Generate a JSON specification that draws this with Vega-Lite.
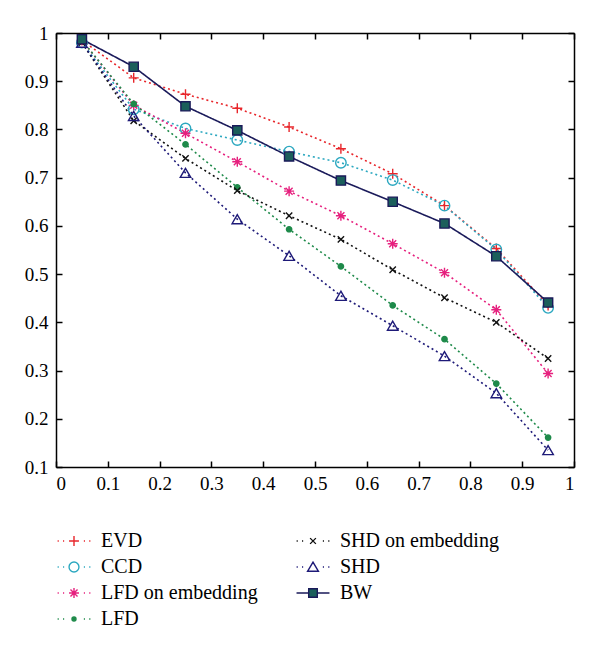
{
  "$schema": "https://vega.github.io/schema/vega-lite/v6.json",
  "autosize": "none",
  "width": 518,
  "height": 434,
  "padding": {"left": 56, "top": 33, "right": 26, "bottom": 180},
  "background": "white",
  "config": {
    "view": {"stroke": null},
    "font": "Liberation Serif, Times New Roman, DejaVu Serif, serif",
    "axis": {
      "grid": false, "title": null, "domainColor": "black", "domainWidth": 1.5,
      "tickColor": "black", "tickWidth": 1.5, "tickSize": -6,
      "labelFont": "Liberation Serif, Times New Roman, DejaVu Serif, serif", "labelFontSize": 19, "labelColor": "black"
    },
    "legend": {
      "orient": "none", "legendX": 8, "legendY": 498, "columns": 2, "columnPadding": 35, "rowPadding": 6,
      "title": null, "labelFont": "Liberation Serif, Times New Roman, DejaVu Serif, serif", "labelFontSize": 20, "labelColor": "black",
      "symbolSize": 256, "labelOffset": 17, "padding": 0, "symbolStrokeWidth": 1.4, "symbolOpacity": 1
    }
  },
  "data": {"values": [
    {"x": 0.05, "v": 0.985, "s": "EVD"}, {"x": 0.15, "v": 0.907, "s": "EVD"}, {"x": 0.25, "v": 0.873, "s": "EVD"}, {"x": 0.35, "v": 0.844, "s": "EVD"}, {"x": 0.45, "v": 0.805, "s": "EVD"}, {"x": 0.55, "v": 0.76, "s": "EVD"}, {"x": 0.65, "v": 0.708, "s": "EVD"}, {"x": 0.75, "v": 0.642, "s": "EVD"}, {"x": 0.85, "v": 0.553, "s": "EVD"}, {"x": 0.95, "v": 0.435, "s": "EVD"},
    {"x": 0.05, "v": 0.98, "s": "CCD"}, {"x": 0.15, "v": 0.842, "s": "CCD"}, {"x": 0.25, "v": 0.802, "s": "CCD"}, {"x": 0.35, "v": 0.778, "s": "CCD"}, {"x": 0.45, "v": 0.754, "s": "CCD"}, {"x": 0.55, "v": 0.731, "s": "CCD"}, {"x": 0.65, "v": 0.695, "s": "CCD"}, {"x": 0.75, "v": 0.642, "s": "CCD"}, {"x": 0.85, "v": 0.551, "s": "CCD"}, {"x": 0.95, "v": 0.43, "s": "CCD"},
    {"x": 0.05, "v": 0.985, "s": "LFD on embedding"}, {"x": 0.15, "v": 0.85, "s": "LFD on embedding"}, {"x": 0.25, "v": 0.792, "s": "LFD on embedding"}, {"x": 0.35, "v": 0.733, "s": "LFD on embedding"}, {"x": 0.45, "v": 0.672, "s": "LFD on embedding"}, {"x": 0.55, "v": 0.621, "s": "LFD on embedding"}, {"x": 0.65, "v": 0.563, "s": "LFD on embedding"}, {"x": 0.75, "v": 0.503, "s": "LFD on embedding"}, {"x": 0.85, "v": 0.426, "s": "LFD on embedding"}, {"x": 0.95, "v": 0.294, "s": "LFD on embedding"},
    {"x": 0.05, "v": 0.985, "s": "LFD"}, {"x": 0.15, "v": 0.853, "s": "LFD"}, {"x": 0.25, "v": 0.769, "s": "LFD"}, {"x": 0.35, "v": 0.68, "s": "LFD"}, {"x": 0.45, "v": 0.593, "s": "LFD"}, {"x": 0.55, "v": 0.516, "s": "LFD"}, {"x": 0.65, "v": 0.435, "s": "LFD"}, {"x": 0.75, "v": 0.365, "s": "LFD"}, {"x": 0.85, "v": 0.273, "s": "LFD"}, {"x": 0.95, "v": 0.161, "s": "LFD"},
    {"x": 0.05, "v": 0.98, "s": "SHD on embedding"}, {"x": 0.15, "v": 0.818, "s": "SHD on embedding"}, {"x": 0.25, "v": 0.74, "s": "SHD on embedding"}, {"x": 0.35, "v": 0.673, "s": "SHD on embedding"}, {"x": 0.45, "v": 0.621, "s": "SHD on embedding"}, {"x": 0.55, "v": 0.572, "s": "SHD on embedding"}, {"x": 0.65, "v": 0.509, "s": "SHD on embedding"}, {"x": 0.75, "v": 0.451, "s": "SHD on embedding"}, {"x": 0.85, "v": 0.4, "s": "SHD on embedding"}, {"x": 0.95, "v": 0.325, "s": "SHD on embedding"},
    {"x": 0.05, "v": 0.98, "s": "SHD"}, {"x": 0.15, "v": 0.828, "s": "SHD"}, {"x": 0.25, "v": 0.71, "s": "SHD"}, {"x": 0.35, "v": 0.614, "s": "SHD"}, {"x": 0.45, "v": 0.538, "s": "SHD"}, {"x": 0.55, "v": 0.455, "s": "SHD"}, {"x": 0.65, "v": 0.393, "s": "SHD"}, {"x": 0.75, "v": 0.33, "s": "SHD"}, {"x": 0.85, "v": 0.253, "s": "SHD"}, {"x": 0.95, "v": 0.135, "s": "SHD"},
    {"x": 0.05, "v": 0.987, "s": "BW"}, {"x": 0.15, "v": 0.93, "s": "BW"}, {"x": 0.25, "v": 0.848, "s": "BW"}, {"x": 0.35, "v": 0.798, "s": "BW"}, {"x": 0.45, "v": 0.744, "s": "BW"}, {"x": 0.55, "v": 0.694, "s": "BW"}, {"x": 0.65, "v": 0.65, "s": "BW"}, {"x": 0.75, "v": 0.605, "s": "BW"}, {"x": 0.85, "v": 0.537, "s": "BW"}, {"x": 0.95, "v": 0.441, "s": "BW"}
  ]},
  "resolve": {
    "scale": {"stroke": "independent", "shape": "independent", "fill": "independent", "size": "independent", "strokeDash": "independent"},
    "axis": {"x": "independent", "y": "independent"}
  },
  "layer": [
    {
      "mark": {"type": "line", "strokeWidth": 1.6},
      "encoding": {
        "x": {"field": "x", "type": "quantitative", "scale": {"domain": [0, 1], "nice": false, "zero": false},
              "axis": {"orient": "bottom", "values": [0, 0.1, 0.2, 0.3, 0.4, 0.5, 0.6, 0.7, 0.8, 0.9, 1], "format": "~g", "labelPadding": 13}},
        "y": {"field": "v", "type": "quantitative", "scale": {"domain": [0.1, 1], "nice": false, "zero": false},
              "axis": {"orient": "left", "values": [0.1, 0.2, 0.3, 0.4, 0.5, 0.6, 0.7, 0.8, 0.9, 1], "format": "~g", "labelPadding": 14}},
        "order": {"field": "x", "type": "quantitative"},
        "stroke": {"field": "s", "type": "nominal", "legend": null,
          "scale": {"domain": ["EVD", "CCD", "LFD on embedding", "LFD", "SHD on embedding", "SHD", "BW"],
                    "range": ["#e8262b", "#2ca8c0", "#e6207e", "#1e8a4a", "#111111", "#1e1a78", "#1a1a5a"]}},
        "strokeDash": {"field": "s", "type": "nominal", "legend": null,
          "scale": {"domain": ["EVD", "CCD", "LFD on embedding", "LFD", "SHD on embedding", "SHD", "BW"],
                    "range": [[2, 3], [2, 3], [2, 3], [2, 3], [2, 3], [2, 3], [1, 0]]}}
      }
    },
    {
      "mark": {"type": "point", "strokeWidth": 1.4, "opacity": 1},
      "encoding": {
        "x": {"field": "x", "type": "quantitative",
              "axis": {"orient": "top", "labels": false, "values": [0, 0.1, 0.2, 0.3, 0.4, 0.5, 0.6, 0.7, 0.8, 0.9, 1]}},
        "y": {"field": "v", "type": "quantitative",
              "axis": {"orient": "right", "labels": false, "values": [0.1, 0.2, 0.3, 0.4, 0.5, 0.6, 0.7, 0.8, 0.9, 1]}},
        "stroke": {"field": "s", "type": "nominal", "legend": null,
          "scale": {"domain": ["EVD", "CCD", "LFD on embedding", "LFD", "SHD on embedding", "SHD", "BW"],
                    "range": ["#e8262b", "#2ca8c0", "#e6207e", "#1e8a4a", "#111111", "#1e1a78", "#1a1a5a"]}},
        "shape": {"field": "s", "type": "nominal", "legend": null,
          "scale": {"domain": ["EVD", "CCD", "LFD on embedding", "LFD", "SHD on embedding", "SHD", "BW"],
                    "range": ["M-1,0H1M0,-1V1", "circle", "M-1,0H1M0,-1V1M-0.7,-0.7L0.7,0.7M-0.7,0.7L0.7,-0.7", "circle", "M-1,-1L1,1M-1,1L1,-1", "triangle-up", "square"]}},
        "fill": {"field": "s", "type": "nominal", "legend": null,
          "scale": {"domain": ["EVD", "CCD", "LFD on embedding", "LFD", "SHD on embedding", "SHD", "BW"],
                    "range": ["transparent", "transparent", "transparent", "#1e8a4a", "transparent", "transparent", "#1b5f5b"]}},
        "size": {"field": "s", "type": "nominal", "legend": null,
          "scale": {"type": "ordinal", "domain": ["EVD", "CCD", "LFD on embedding", "LFD", "SHD on embedding", "SHD", "BW"],
                    "range": [100, 110, 100, 28, 40, 110, 85]}}
      }
    },
    {
      "transform": [{"filter": "false"}],
      "mark": {"type": "point", "strokeWidth": 1.4, "opacity": 1},
      "encoding": {
        "x": {"field": "x", "type": "quantitative", "axis": null},
        "y": {"field": "v", "type": "quantitative", "axis": null},
        "stroke": {"field": "s", "type": "nominal",
          "scale": {"domain": ["EVD", "CCD", "LFD on embedding", "LFD", "SHD on embedding", "SHD", "BW"],
                    "range": ["#e8262b", "#2ca8c0", "#e6207e", "#1e8a4a", "#111111", "#1e1a78", "#1a1a5a"]}},
        "shape": {"field": "s", "type": "nominal",
          "scale": {"domain": ["EVD", "CCD", "LFD on embedding", "LFD", "SHD on embedding", "SHD", "BW"],
                    "range": [
                      "M-2.05,0H-1.9M-1.38,0H-1.23M1.23,0H1.38M1.9,0H2.05M-0.62,0H0.62M0,-0.62V0.62",
                      "M-2.05,0H-1.9M-1.38,0H-1.23M1.23,0H1.38M1.9,0H2.05M0.62,0A0.62,0.62,0,1,1,-0.62,0A0.62,0.62,0,1,1,0.62,0Z",
                      "M-2.05,0H-1.9M-1.38,0H-1.23M1.23,0H1.38M1.9,0H2.05M-0.62,0H0.62M0,-0.62V0.62M-0.44,-0.44L0.44,0.44M-0.44,0.44L0.44,-0.44",
                      "M-2.05,0H-1.9M-1.38,0H-1.23M1.23,0H1.38M1.9,0H2.05M0.25,0A0.25,0.25,0,1,1,-0.25,0A0.25,0.25,0,1,1,0.25,0Z",
                      "M-2.05,0H-1.9M-1.38,0H-1.23M1.23,0H1.38M1.9,0H2.05M-0.36,-0.36L0.36,0.36M-0.36,0.36L0.36,-0.36",
                      "M-2.05,0H-1.9M-1.38,0H-1.23M1.23,0H1.38M1.9,0H2.05M0,-0.62L0.68,0.54H-0.68Z",
                      "M-2.06,0H-0.54M0.54,0H2.06M-0.54,-0.54H0.54V0.54H-0.54Z"]}},
        "fill": {"field": "s", "type": "nominal",
          "scale": {"domain": ["EVD", "CCD", "LFD on embedding", "LFD", "SHD on embedding", "SHD", "BW"],
                    "range": ["transparent", "transparent", "transparent", "#1e8a4a", "transparent", "transparent", "#1b5f5b"]}}
      }
    }
  ]
}
